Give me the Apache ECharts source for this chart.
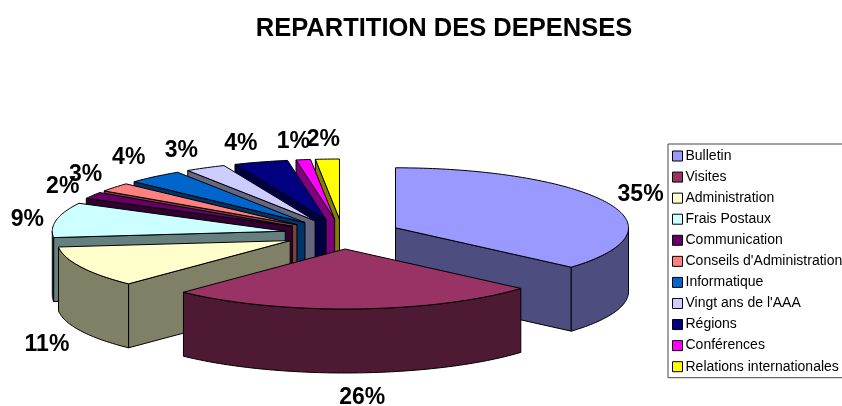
<!DOCTYPE html>
<html>
<head>
<meta charset="utf-8">
<script src="https://cdn.jsdelivr.net/npm/echarts@6/dist/echarts.min.js"></script>
<style>html,body{margin:0;padding:0;background:#fff}#c{width:842px;height:406px}</style>
</head>
<body>
<div id="c"></div>
<script>
var categories = ["Bulletin","Visites","Administration","Frais Postaux","Communication","Conseils d'Administration","Informatique","Vingt ans de l'AAA","Régions","Conférences","Relations internationales"];
var shares = [36.4,25.8,11.1,9.4,1.8,2.4,3.9,2.8,3.75,1.0,1.65];
var percentLabels = ["35%","26%","11%","9%","2%","3%","4%","3%","4%","1%","2%"];
var topColors = ["#9999FF","#993366","#FFFFCC","#CCFFFF","#660066","#FF8080","#0066CC","#CCCCFF","#000080","#FF00FF","#FFFF00"];
var sideColors = ["#4D4D80","#4D1933","#808066","#668080","#330033","#804040","#003366","#666680","#000040","#800080","#808000"];
var drawOrder = [10,9,8,7,6,5,4,3,2,0,1];
var labelNudges = [[33,-8],[7,25],[-34,14],[-29,0],[-30,-9],[-29,-13],[-26,-19],[-24,-17],[-20,-18],[-10,-18],[-4,-19]];

var CX = 342.5, CY = 234, RX = 233, RY = 60, DEPTH = 64, EXPLODE = 0.25;
var total = shares.reduce(function(a,b){return a+b;},0);
var starts = []; (function(){var s=0;shares.forEach(function(v){starts.push(s);s+=v;});})();
function rad(p){return p/total*2*Math.PI;}
function pt(ax,ay,t,dz){return [ax+RX*Math.sin(t), ay-RY*Math.cos(t)+(dz||0)];}
function arc(ax,ay,t0,t1,dz){var n=Math.max(2,Math.ceil((t1-t0)/0.02)),o=[];for(var i=0;i<=n;i++){o.push(pt(ax,ay,t0+(t1-t0)*i/n,dz));}return o;}
function poly(points,fill){return {type:'polygon',shape:{points:points},style:{fill:fill,stroke:'#000',lineWidth:1,lineJoin:'round'}};}

function renderSlice(params,api){
  var i = api.value(0);
  var t0 = rad(starts[i]), t1 = rad(starts[i]+shares[i]), m=(t0+t1)/2;
  var ax = CX+EXPLODE*RX*Math.sin(m), ay = CY-EXPLODE*RY*Math.cos(m);
  var side = sideColors[i], kids = [];
  function wall(t){var p=pt(ax,ay,t);return poly([[ax,ay],p,[p[0],p[1]+DEPTH],[ax,ay+DEPTH]],side);}
  if(Math.sin(t0)<-1e-6) kids.push(wall(t0));
  if(Math.sin(t1)>1e-6) kids.push(wall(t1));
  var a0=Math.max(t0,Math.PI/2), a1=Math.min(t1,Math.PI*1.5);
  if(a1>a0){
    kids.push(poly(arc(ax,ay,a0,a1,0).concat(arc(ax,ay,a0,a1,DEPTH).reverse()),side));
  }
  kids.push(poly([[ax,ay]].concat(arc(ax,ay,t0,t1,0)),topColors[i]));
  var o = pt(ax,ay,m,Math.cos(m)<0?DEPTH:0), n = labelNudges[i];
  kids.push({type:'text',z2:50,style:{text:percentLabels[i],x:o[0]+n[0],y:o[1]+n[1],align:'center',verticalAlign:'middle',fill:'#000',font:'bold 23px "Liberation Sans", Arial, sans-serif'}});
  return {type:'group',children:kids};
}

var chart = echarts.init(document.getElementById('c'),null,{renderer:'canvas'});
chart.setOption({
  animation:false,
  backgroundColor:'#fff',
  title:{text:'REPARTITION DES DEPENSES',left:439,top:11,textAlign:'center',textStyle:{fontFamily:'"Liberation Sans", Arial, sans-serif',fontWeight:'bold',fontSize:25.5,color:'#000'}},
  legend:{
    orient:'vertical',left:668,top:144,padding:[5,4,4,4],itemGap:7.07,itemWidth:10,itemHeight:10,
    icon:'rect',selectedMode:false,data:categories,borderColor:'#444',borderWidth:1,
    itemStyle:{borderColor:'#000',borderWidth:1},
    textStyle:{fontFamily:'"Liberation Sans", Arial, sans-serif',fontSize:14,color:'#000',padding:[0,0,0,-2]}
  },
  series:drawOrder.map(function(i){
    return {type:'custom',name:categories[i],coordinateSystem:'none',renderItem:renderSlice,silent:true,clip:false,
      itemStyle:{color:topColors[i]},data:[[i]]};
  })
});
</script>
</body>
</html>
